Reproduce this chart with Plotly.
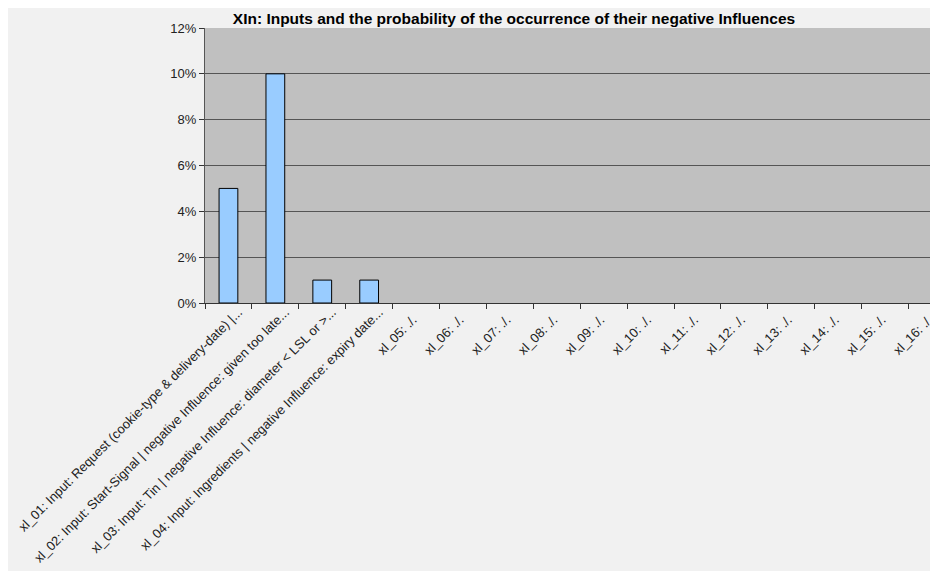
import plotly.graph_objects as go

# category labels as shown on the x axis
categories = [
    "xl_01: Input: Request (cookie-type & delivery-date) |...",
    "xl_02: Input: Start-Signal | negative Influence: given too late...",
    "xl_03: Input: Tin | negative Influence: diameter < LSL or >...",
    "xl_04: Input: Ingredients | negative Influence: expiry date...",
    "xl_05: ./.", "xl_06: ./.", "xl_07: ./.", "xl_08: ./.",
    "xl_09: ./.", "xl_10: ./.", "xl_11: ./.", "xl_12: ./.",
    "xl_13: ./.", "xl_14: ./.", "xl_15: ./.", "xl_16: ./.",
]
# probability of negative influence (fraction); xl_05..xl_16 have no value
probability = [0.05, 0.10, 0.01, 0.01] + [None] * 12

y_ticks = [0, 0.02, 0.04, 0.06, 0.08, 0.10, 0.12]

# the page adds an 8px body margin, so the figure is sized to fill the rest
PAGE_W, PAGE_H, OFF = 938, 571, 8
W, H = PAGE_W - OFF, PAGE_H - OFF
plot_left, plot_top, plot_bottom = 205, 28, 303  # page pixels in the reference
step = 46.9  # px per category in the reference

n = len(categories)
n_long = 4  # the first four labels are the long, truncated ones
idx = list(range(n))
x_range = [-0.5, -0.5 + (PAGE_W - plot_left) / step]

bar_style = dict(
    width=0.4,
    marker=dict(color="#99ccff", line=dict(color="#000000", width=1)),
    showlegend=False,
)

fig = go.Figure()
fig.add_trace(go.Bar(x=idx[n_long:], y=probability[n_long:], xaxis="x", **bar_style))
# long labels sit a bit further right/up, so they get their own overlaid axis
fig.add_trace(go.Bar(x=idx[:n_long], y=probability[:n_long], xaxis="x2", **bar_style))

fig.update_layout(
    width=W, height=H,
    margin=dict(l=plot_left - OFF, r=0, t=plot_top - OFF, b=PAGE_H - plot_bottom),
    paper_bgcolor="#f1f1f1",
    plot_bgcolor="#c0c0c0",
    font=dict(family="Liberation Sans, Arial, sans-serif", size=13, color="#111111"),
    title=dict(
        text="<b>XIn: Inputs and the probability of the occurrence of their negative Influences</b>",
        x=(514 - OFF) / W, xref="container", xanchor="center",
        y=1 - (19 - OFF) / H, yref="container", yanchor="middle",
        font=dict(size=15.5, color="#000000"),
    ),
    xaxis=dict(
        range=x_range,
        tickmode="array",
        tickvals=idx[n_long:],
        ticktext=categories[n_long:],
        tickangle=-45, ticks="",
        ticklabelshift=-3, ticklabelstandoff=3,
        ticklabeloverflow="allow",
        minor=dict(tick0=-0.5, dtick=1, ticks="outside", ticklen=5,
                   tickcolor="#333333", showgrid=False),
        showline=True, linecolor="#333333", linewidth=1,
        showgrid=False, zeroline=False, automargin=False,
        tickfont=dict(size=13, color="#222222"),
    ),
    xaxis2=dict(
        overlaying="x", anchor="y", side="bottom",
        range=x_range,
        tickmode="array",
        tickvals=idx[:n_long],
        ticktext=categories[:n_long],
        tickangle=-45, ticks="",
        ticklabelshift=10, ticklabelstandoff=-2,
        ticklabeloverflow="allow",
        showline=False, showgrid=False, zeroline=False, automargin=False,
        tickfont=dict(size=13, color="#222222"),
    ),
    yaxis=dict(
        range=[0, 0.12],
        tickmode="array",
        tickvals=y_ticks,
        tickformat=".0%",
        ticks="outside", ticklen=5, tickcolor="#333333",
        showline=True, linecolor="#555555", linewidth=1,
        showgrid=True, gridcolor="#555555", gridwidth=1,
        zeroline=False, automargin=False,
        tickfont=dict(size=13, color="#222222"),
    ),
)

fig.write_html("out.html")
